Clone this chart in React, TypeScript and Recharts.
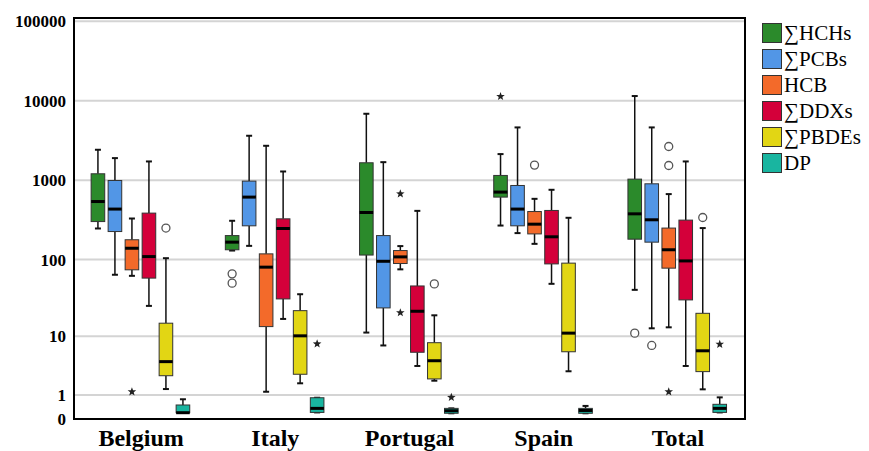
import { ComposedChart, Bar, XAxis, YAxis, CartesianGrid, Legend, ReferenceArea } from "recharts";

const countries = ["Belgium", "Italy", "Portugal", "Spain", "Total"];
const tickLabels = [0, 1, 10, 100, 1000, 10000, 100000];

// [min, Q1, median, Q3, max] for each country, in original units
const hchBoxes = [
  [247, 302, 540, 1207, 2420],
  [130, 133, 166, 201, 309],
  [11.2, 114, 393, 1660, 6860],
  [269, 614, 710, 1150, 2135],
  [41, 181, 378, 1034, 11460],
];
const hchOutliers = [[], [65.7, 50], [], [], [11]];
const hchExtremes = [[], [], [], [11330], []];

const pcbBoxes = [
  [64, 226, 434, 994, 1900],
  [149, 267, 614, 976, 3630],
  [7.4, 23.9, 95, 201, 1690],
  [216, 267, 434, 860, 4620],
  [12.8, 166, 318, 903, 4620],
];
const pcbOutliers = [[], [], [], [], [7.4]];
const pcbExtremes = [[], [], [], [], []];

const hcbBoxes = [
  [62, 74, 139, 178, 330],
  [1.2, 13.5, 80, 118, 2715],
  [75, 89, 108, 130, 148],
  [158, 211, 280, 404, 584],
  [13.2, 77.7, 133, 250, 670],
];
const hcbOutliers = [[], [], [], [1552], [2660, 1535]];
const hcbExtremes = [[1.2], [], [676, 20.7], [], [1.2]];

const ddxBoxes = [
  [25.4, 58, 109, 386, 1725],
  [17.1, 31.3, 247, 327, 1290],
  [3.64, 5.9, 21.6, 46, 412],
  [49, 88, 194, 417, 759],
  [3.64, 30.4, 96, 315, 1725],
];
const ddxOutliers = [[], [], [], [], []];
const ddxExtremes = [[], [], [], [], []];

const pbdeBoxes = [
  [1.38, 2.5, 4.26, 15, 104],
  [1.81, 2.65, 10.1, 22, 36],
  [2.03, 2.19, 4.4, 8.1, 19.1],
  [2.98, 6.0, 11, 90, 337],
  [1.36, 2.94, 6.2, 20.3, 250],
];
const pbdeOutliers = [[250], [], [48.9], [], [340]];
const pbdeExtremes = [[], [], [], [], []];

const dpBoxes = [
  [0.2, 0.2, 0.2, 0.5, 0.77],
  [0.21, 0.21, 0.36, 0.85, 0.85],
  [0.18, 0.18, 0.27, 0.36, 0.36],
  [0.18, 0.18, 0.28, 0.36, 0.46],
  [0.21, 0.21, 0.36, 0.53, 0.87],
];
const dpOutliers = [[], [], [], [], []];
const dpExtremes = [[], [7.8], [0.87], [], [7.7]];

const series = [
  { key: "hch", name: "∑HCHs", color: "#2b8a2b", boxes: hchBoxes, outliers: hchOutliers, extremes: hchExtremes },
  { key: "pcb", name: "∑PCBs", color: "#5296e6", boxes: pcbBoxes, outliers: pcbOutliers, extremes: pcbExtremes },
  { key: "hcb", name: "HCB", color: "#f36a2a", boxes: hcbBoxes, outliers: hcbOutliers, extremes: hcbExtremes },
  { key: "ddx", name: "∑DDXs", color: "#d4003a", boxes: ddxBoxes, outliers: ddxOutliers, extremes: ddxExtremes },
  { key: "pbde", name: "∑PBDEs", color: "#e2d614", boxes: pbdeBoxes, outliers: pbdeOutliers, extremes: pbdeExtremes },
  { key: "dp", name: "DP", color: "#19b5a0", boxes: dpBoxes, outliers: dpOutliers, extremes: dpExtremes },
];

// axis is log10(x + 1)
const tf = (v: number) => Math.log10(v + 1);
const yMax = 5.04;
const yTicks = tickLabels.map(tf);

const rows = countries.map((country, i) => {
  const row: any = { country };
  series.forEach((s) => {
    const all = [...s.boxes[i], ...s.outliers[i], ...s.extremes[i]].map(tf);
    row[s.key] = [Math.min(...all), Math.max(...all)];
  });
  return row;
});

const serif = "'Liberation Serif', 'Times New Roman', serif";

function starPath(cx: number, cy: number, r: number) {
  let d = "";
  for (let k = 0; k < 10; k++) {
    const rr = k % 2 === 0 ? r : r * 0.42;
    const a = -Math.PI / 2 + (k * Math.PI) / 5;
    d += (k === 0 ? "M" : "L") + (cx + rr * Math.cos(a)).toFixed(2) + "," + (cy + rr * Math.sin(a)).toFixed(2);
  }
  return d + "Z";
}

function BoxShape(props: any) {
  const { x, y, width, height, payload, s } = props;
  const i = countries.indexOf(payload.country);
  const [lo, hi] = payload[s.key];
  const top = Math.min(y, y + height);
  const h = Math.abs(height);
  const py = (v: number) => top + (h * (hi - tf(v))) / (hi - lo);
  const cx = x + width / 2;
  const bw = width * 0.8;
  const [mn, q1, md, q3, mx] = s.boxes[i];
  return (
    <g>
      <line x1={cx} x2={cx} y1={py(mx)} y2={py(q3)} stroke="#111" strokeWidth={1.5} />
      <line x1={cx} x2={cx} y1={py(q1)} y2={py(mn)} stroke="#111" strokeWidth={1.5} />
      <line x1={cx - 3} x2={cx + 3} y1={py(mx)} y2={py(mx)} stroke="#111" strokeWidth={2} />
      <line x1={cx - 3} x2={cx + 3} y1={py(mn)} y2={py(mn)} stroke="#111" strokeWidth={2} />
      <rect x={cx - bw / 2} y={py(q3)} width={bw} height={Math.max(py(q1) - py(q3), 1)} fill={s.color} stroke="#333" strokeWidth={1} />
      <line x1={cx - bw / 2} x2={cx + bw / 2} y1={py(md)} y2={py(md)} stroke="#000" strokeWidth={3} />
      {s.outliers[i].map((v: number, k: number) => (
        <circle key={"o" + k} cx={cx} cy={py(v)} r={4} fill="#fff" stroke="#555" strokeWidth={1.3} />
      ))}
      {s.extremes[i].map((v: number, k: number) => (
        <path key={"e" + k} d={starPath(cx, py(v), 4.5)} fill="#222" />
      ))}
    </g>
  );
}

function LegendBox(props: any) {
  const items = [...(props.payload || [])].sort(
    (a: any, b: any) => series.findIndex((s) => s.name === a.value) - series.findIndex((s) => s.name === b.value)
  );
  return (
    <div style={{ paddingLeft: 17, paddingTop: 2, fontFamily: serif, fontSize: 21, color: "#000" }}>
      {items.map((it: any) => (
        <div key={it.value} style={{ display: "flex", alignItems: "center", height: 26 }}>
          <span
            style={{
              width: 20,
              height: 20,
              background: it.color,
              border: "1px solid #333",
              boxSizing: "border-box",
              marginRight: 2,
              display: "inline-block",
            }}
          />
          <span style={{ lineHeight: "20px" }}>{it.value}</span>
        </div>
      ))}
    </div>
  );
}

export default function App() {
  return (
    <div style={{ position: "absolute", left: 0, top: 0, width: 869, height: 451, background: "#fff" }}>
      <ComposedChart
        width={869}
        height={451}
        data={rows}
        margin={{ top: 18, right: 0, bottom: 0, left: 0 }}
        barGap={0}
        barCategoryGap="11.5%"
      >
        <CartesianGrid vertical={false} stroke="#d4d4d4" strokeWidth={2} />
        <XAxis
          dataKey="country"
          height={32}
          axisLine={{ stroke: "#000", strokeWidth: 2 }}
          tickLine={false}
          tickSize={0}
          tickMargin={10}
          tick={{ fontSize: 24, fontWeight: 700, fill: "#000", fontFamily: serif }}
        />
        <YAxis
          type="number"
          domain={[0, yMax]}
          ticks={yTicks}
          interval={0}
          width={74}
          axisLine={{ stroke: "#000", strokeWidth: 2 }}
          tickLine={false}
          tickSize={0}
          tickMargin={8}
          tickFormatter={(t: number) => String(tickLabels[yTicks.findIndex((v) => Math.abs(v - t) < 1e-6)] ?? "")}
          tick={{ fontSize: 17, fontWeight: 700, fill: "#000", fontFamily: serif }}
        />
        <Legend
          layout="vertical"
          align="right"
          verticalAlign="top"
          wrapperStyle={{ width: 124 }}
          content={<LegendBox />}
        />
        {series.map((s) => (
          <Bar
            key={s.key}
            dataKey={s.key}
            name={s.name}
            fill={s.color}
            isAnimationActive={false}
            shape={(p: any) => <BoxShape {...p} s={s} />}
          />
        ))}
        <ReferenceArea y1={0} y2={yMax} fill="none" stroke="#000" strokeWidth={2} fillOpacity={0} />
      </ComposedChart>
    </div>
  );
}
